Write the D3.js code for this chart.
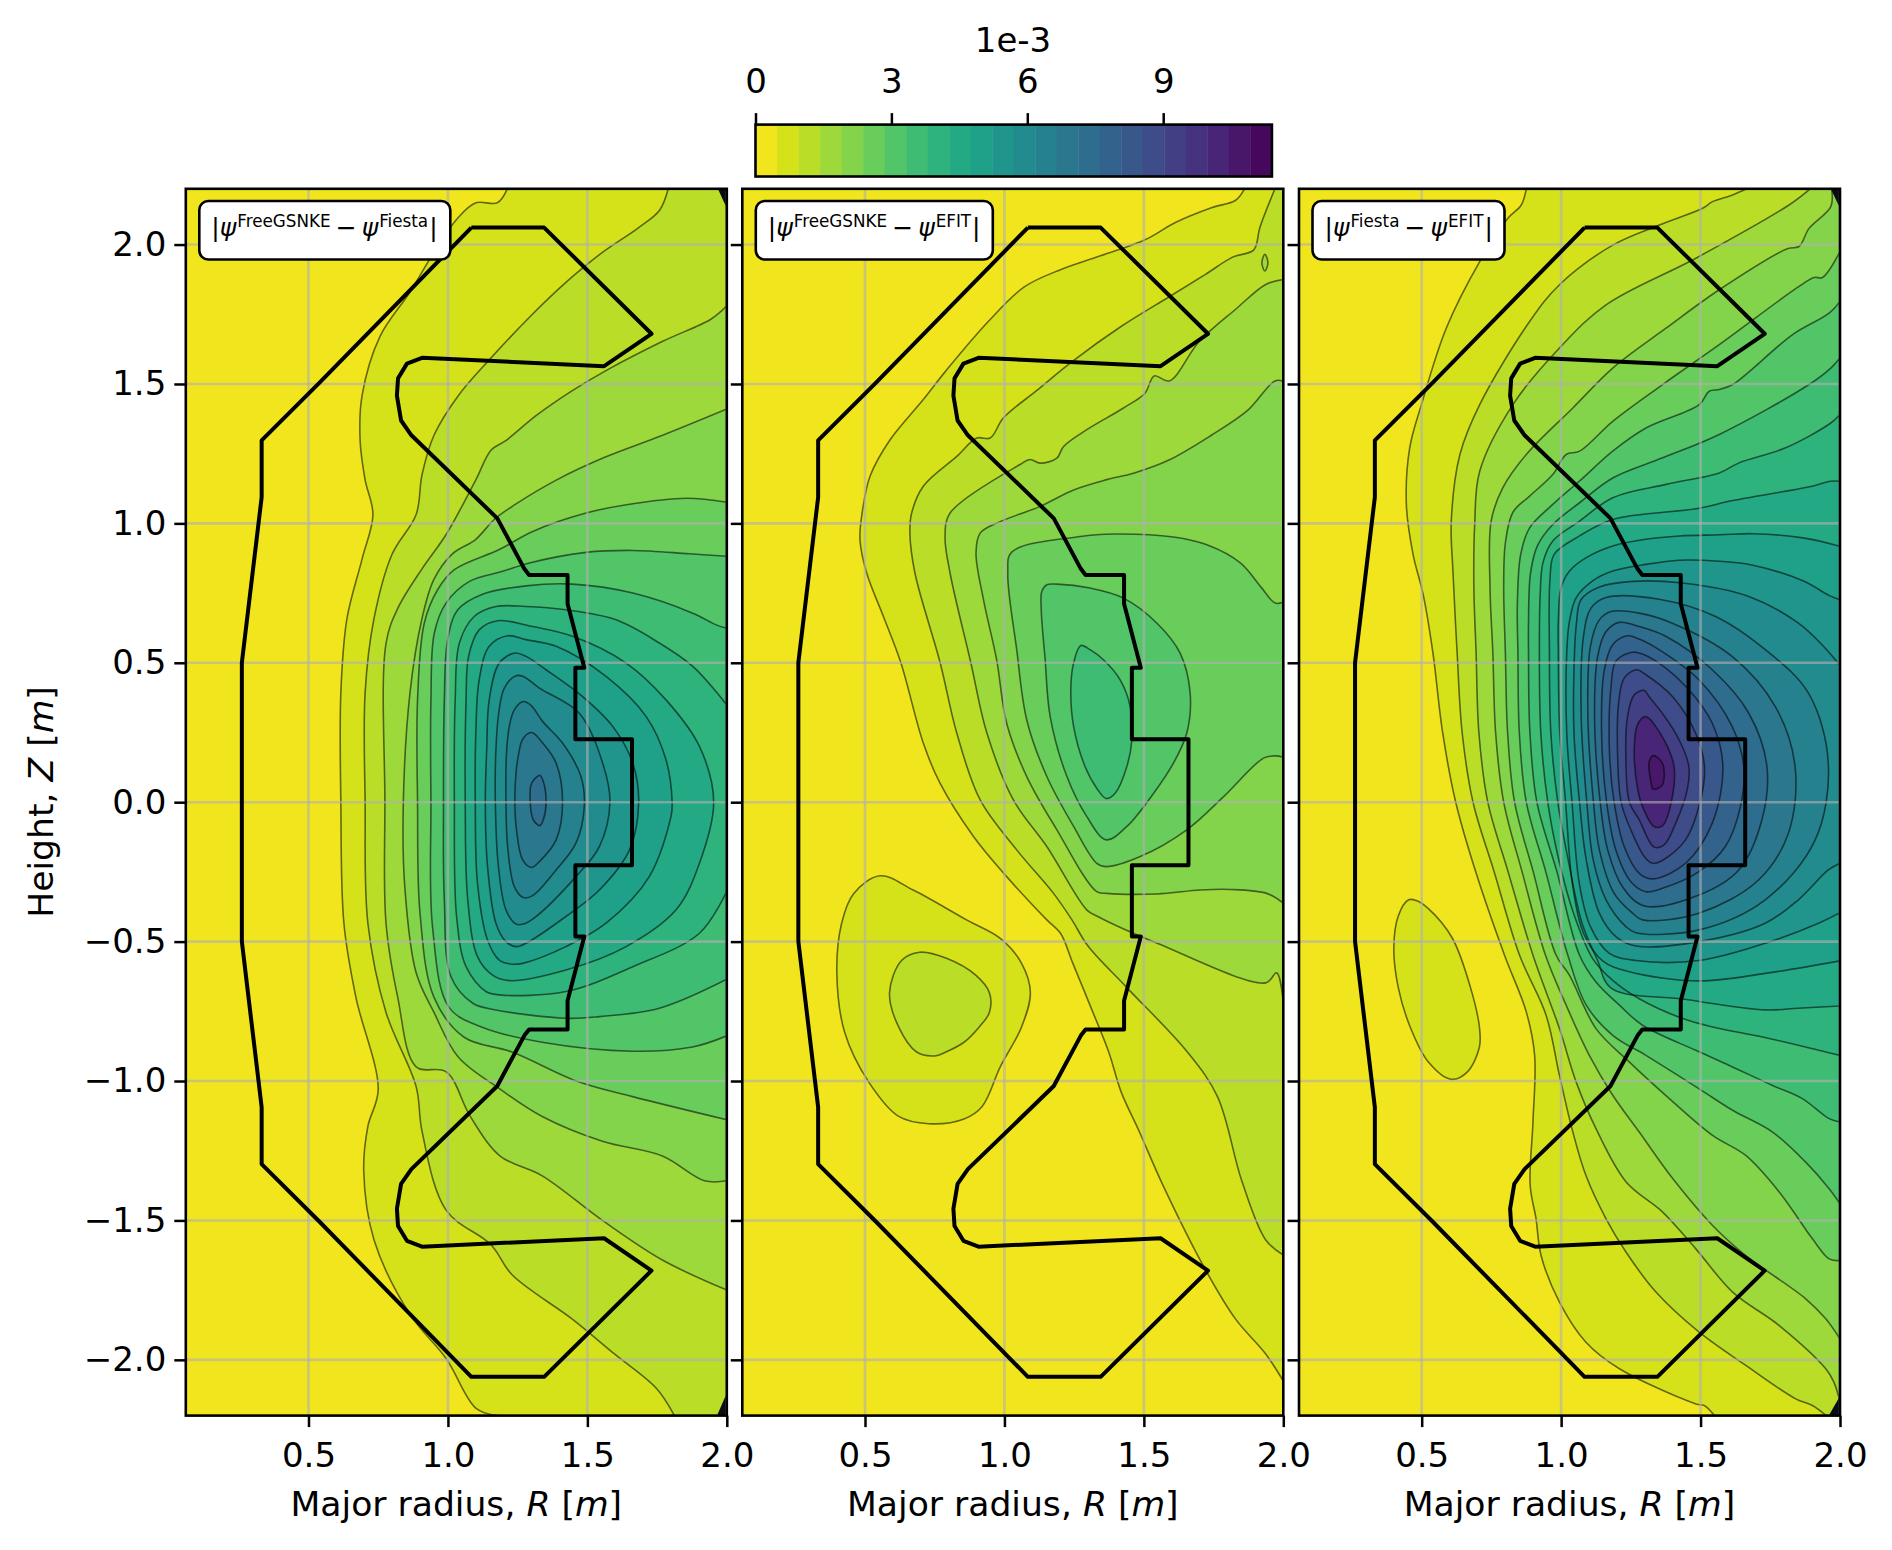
<!DOCTYPE html>
<html>
<head>
<meta charset="utf-8">
<script src="https://cdn.jsdelivr.net/npm/d3@7"></script>
<style>
html,body{margin:0;padding:0;background:#fff}
svg{display:block}
text{font-family:"DejaVu Sans";fill:#000}
</style>
</head>
<body>
<svg id="fig" width="1892" height="1550"></svg>
<script>
// ---- values ----
const levelStep = 0.475;            // contour spacing, in units of 1e-3
const levelCount = 24;              // number of filled bands
const colorbarTicks = [0, 3, 6, 9];
const colorbarOffsetLabel = "1e-3";
const radiusTicks = [0.5, 1.0, 1.5, 2.0];
const heightTicks = [-2, -1.5, -1, -0.5, 0, 0.5, 1, 1.5, 2];
const radiusDomain = [0.06, 2.0];
const heightDomain = [-2.2, 2.2];
const labelsA = ["FreeGSNKE", "Fiesta"];
const labelsB = ["FreeGSNKE", "EFIT"];
const labelsC = ["Fiesta", "EFIT"];

// wall outline, [R, Z]
const wall = [[1.084,2.061],[1.345,2.061],[1.73,1.68],[1.56,1.564],[.907,1.594],[.853,1.573],[.821,1.52],[.817,1.458],[.832,1.369],[.869,1.316],[1.177,1.018],[1.274,.837],[1.291,.815],[1.429,.815],[1.429,.712],[1.489,.482],[1.457,.482],[1.457,.226],[1.66,.226],[1.66,-.226],[1.457,-.226],[1.457,-.482],[1.489,-.482],[1.429,-.712],[1.429,-.815],[1.291,-.815],[1.274,-.837],[1.177,-1.018],[.869,-1.316],[.832,-1.369],[.817,-1.458],[.821,-1.52],[.853,-1.573],[.907,-1.594],[1.56,-1.564],[1.73,-1.68],[1.345,-2.061],[1.084,-2.061],[.537,-1.502],[.332,-1.298],[.332,-1.094],[.261,-.5],[.261,.5],[.332,1.094],[.332,1.298],[.537,1.502],[1.084,2.061]];

// contour traces: [level index, [[R, Z], ...]]
const contoursA = [
 [1,[[1.213,2.2],[1.177,2.15],[1.10,2.15],[1.037,2.097],[.95,1.972],[.864,1.83],[.756,1.67],[.692,1.458],[.685,1.298],[.703,1.156],[.731,1.032],[.692,.872],[.638,.659],[.616,.393],[.616,0],[.627,-.435],[.67,-.70],[.75,-1.03],[.713,-1.162],[.698,-1.322],[.735,-1.57],[.864,-1.837],[.994,-1.996],[1.101,-2.174],[1.177,-2.2]]],
 [2,[[1.79,2.2],[1.759,2.123],[1.683,2.06],[1.554,1.972],[1.425,1.866],[1.295,1.742],[1.144,1.582],[1.037,1.458],[.95,1.316],[.907,1.174],[.886,1.032],[.80,.89],[.735,.659],[.703,.393],[.703,0],[.713,-.435],[.778,-.754],[.886,-1.02],[.907,-1.18],[.994,-1.464],[1.155,-1.588],[1.23,-1.695],[1.446,-1.854],[1.597,-1.979],[1.748,-2.103],[1.812,-2.2]]],
 [3,[[2.0,1.78],[1.944,1.733],[1.77,1.653],[1.565,1.547],[1.446,1.476],[1.317,1.387],[1.209,1.298],[1.155,1.263],[1.10,1.156],[.994,.961],[.907,.837],[.82,.695],[.778,.57],[.774,0],[.778,-.435],[.82,-.70],[.886,-.949],[.994,-.967],[1.08,-1.127],[1.187,-1.269],[1.338,-1.34],[1.554,-1.50],[1.769,-1.642],[2.0,-1.75]]],
 [4,[[2.0,1.41],[1.77,1.316],[1.56,1.236],[1.39,1.156],[1.24,1.067],[1.166,1.014],[1.10,.943],[1.015,.89],[.95,.80],[.907,.659],[.864,.393],[.84,0],[.845,-.3],[.886,-.612],[.95,-.754],[1.037,-.914],[1.187,-1.029],[1.338,-1.127],[1.554,-1.216],[1.769,-1.269],[1.92,-1.358],[2.0,-1.358]]],
 [5,[[2.0,1.076],[1.856,1.09],[1.64,1.067],[1.495,1.037],[1.304,.971],[1.184,.906],[1.023,.834],[.963,.762],[.915,.642],[.891,.367],[.891,0],[.90,-.4],[.95,-.70],[1.058,-.843],[1.23,-.896],[1.468,-1.003],[1.662,-1.056],[2.0,-1.139]]],
 [6,[[2.0,.882],[1.866,.891],[1.663,.903],[1.495,.896],[1.292,.858],[1.196,.828],[1.077,.792],[.993,.714],[.951,.606],[.939,.367],[.939,0],[.945,-.45],[1.004,-.736],[1.123,-.807],[1.338,-.861],[1.662,-.893],[1.877,-.878],[2.0,-.838]]],
 [7,[[2.0,.624],[1.962,.636],[1.878,.678],[1.663,.75],[1.447,.782],[1.28,.776],[1.124,.746],[1.035,.69],[.999,.583],[.987,.367],[.984,0],[.987,-.35],[1.011,-.626],[1.089,-.721],[1.172,-.745],[1.423,-.775],[1.543,-.769],[1.758,-.739],[2.0,-.635]]],
 [8,[[2.0,.349],[1.878,.487],[1.758,.571],[1.603,.654],[1.423,.69],[1.28,.702],[1.172,.702],[1.094,.666],[1.041,.571],[1.026,.367],[1.023,0],[1.031,-.41],[1.065,-.59],[1.136,-.679],[1.184,-.691],[1.423,-.679],[1.663,-.59],[1.902,-.47],[2.0,-.32]]],
 [9,[[1.178,.651],[1.112,.618],[1.074,.523],[1.065,.367],[1.062,0],[1.071,-.35],[1.106,-.554],[1.16,-.62],[1.22,-.64],[1.423,-.602],[1.639,-.518],[1.818,-.386],[1.902,-.219],[1.953,0],[1.902,.2],[1.782,.367],[1.639,.499],[1.447,.595],[1.304,.63]]],
 [10,[[1.214,.597],[1.148,.559],[1.112,.439],[1.10,.248],[1.098,0],[1.106,-.291],[1.142,-.494],[1.184,-.566],[1.232,-.581],[1.268,-.578],[1.423,-.518],[1.567,-.434],[1.722,-.267],[1.80,-.051],[1.804,0],[1.782,.152],[1.711,.307],[1.567,.451],[1.388,.559],[1.28,.583]]],
 [11,[[1.24,.535],[1.184,.499],[1.148,.367],[1.139,.188],[1.134,0],[1.142,-.231],[1.172,-.434],[1.208,-.5],[1.244,-.518],[1.28,-.506],[1.423,-.41],[1.543,-.315],[1.651,-.171],[1.684,0],[1.663,.14],[1.591,.272],[1.483,.379],[1.352,.475],[1.28,.523]]],
 [12,[[1.242,.453],[1.202,.409],[1.182,.319],[1.172,.188],[1.17,0],[1.181,-.231],[1.208,-.386],[1.244,-.437],[1.27,-.437],[1.316,-.41],[1.459,-.267],[1.543,-.159],[1.581,0],[1.555,.14],[1.471,.319],[1.328,.409],[1.27,.451]]],
 [13,[[1.27,.361],[1.238,.331],[1.22,.272],[1.21,.176],[1.208,0],[1.214,-.159],[1.238,-.303],[1.27,-.342],[1.304,-.335],[1.388,-.243],[1.459,-.147],[1.489,-.016],[1.477,.092],[1.411,.212],[1.34,.289],[1.298,.347]]],
 [14,[[1.30,.25],[1.268,.226],[1.254,.176],[1.244,.104],[1.24,0],[1.246,-.10],[1.268,-.207],[1.30,-.234],[1.328,-.213],[1.388,-.135],[1.411,0],[1.388,.14],[1.34,.212]]],
 [15,[[1.33,.096],[1.30,.068],[1.295,0],[1.306,-.063],[1.33,-.084],[1.342,-.063],[1.352,0],[1.342,.074]]]
];
const contoursB = [
 [1,[[1.861,2.2],[1.829,2.159],[1.742,2.132],[1.613,2.079],[1.504,2.017],[1.331,1.955],[1.201,1.91],[1.071,1.848],[.942,1.724],[.79,1.547],[.709,1.444],[.59,1.30],[.518,1.169],[.488,1.025],[.482,.941],[.506,.822],[.566,.666],[.628,.502],[.709,.212],[.769,.068],[.889,-.123],[1.008,-.267],[1.152,-.422],[1.201,-.47],[1.245,-.577],[1.31,-.736],[1.374,-.896],[1.418,-1.038],[1.483,-1.18],[1.569,-1.375],[1.721,-1.677],[1.829,-1.854],[1.937,-1.979],[2.0,-2.076]]],
 [1,[[.554,-.264],[.459,-.328],[.416,-.435],[.399,-.612],[.427,-.825],[.513,-1.003],[.621,-1.127],[.728,-1.153],[.855,-1.136],[.92,-1.091],[.985,-.949],[1.061,-.807],[1.093,-.683],[1.061,-.577],[.985,-.488],[.864,-.422],[.673,-.315]]],
 [2,[[1.97,2.2],[1.916,2.061],[1.894,1.981],[1.818,1.955],[1.721,1.893],[1.591,1.813],[1.418,1.706],[1.245,1.582],[1.115,1.476],[.996,1.378],[.949,1.306],[.901,1.306],[.829,1.24],[.709,1.133],[.667,1.036],[.661,.965],[.679,.822],[.769,.502],[.829,.248],[.913,.008],[1.044,-.171],[1.176,-.327],[1.242,-.422],[1.299,-.515],[1.439,-.665],[1.656,-.896],[1.764,-1.056],[1.851,-1.358],[1.937,-1.57],[2.0,-1.624]]],
 [2,[[.696,-.538],[.631,-.568],[.588,-.683],[.621,-.807],[.685,-.896],[.75,-.91],[.79,-.896],[.855,-.861],[.909,-.807],[.946,-.754],[.946,-.683],[.898,-.621],[.79,-.559]]],
 [3,[[2.0,1.875],[1.937,1.857],[1.829,1.768],[1.699,1.653],[1.591,1.511],[1.537,1.529],[1.504,1.467],[1.427,1.414],[1.295,1.336],[1.212,1.276],[1.188,1.234],[1.128,1.216],[1.092,1.229],[1.056,1.211],[.805,1.037],[.787,.953],[.805,.822],[.879,.502],[.937,.248],[1.032,.008],[1.152,-.159],[1.295,-.386],[1.331,-.408],[1.548,-.506],[1.937,-.648],[1.976,-.612],[2.0,-.719]]],
 [3,[[1.934,1.965],[1.945,1.935],[1.934,1.905],[1.923,1.935]]],
 [4,[[2.0,1.51],[1.97,1.511],[1.872,1.405],[1.742,1.316],[1.59,1.227],[1.463,1.18],[1.367,1.157],[1.248,1.12],[1.128,1.061],[.972,1.001],[.913,.965],[.898,.894],[.925,.726],[.972,.511],[1.008,.283],[1.08,.092],[1.188,-.099],[1.331,-.321],[1.367,-.327],[1.547,-.329],[1.702,-.315],[1.81,-.313],[1.94,-.327],[2.0,-.362]]],
 [5,[[2.0,.718],[1.971,.714],[1.918,.774],[1.846,.858],[1.726,.923],[1.606,.951],[1.391,.962],[1.272,.953],[1.026,.897],[1.012,.822],[1.044,.547],[1.08,.295],[1.152,.092],[1.248,-.087],[1.331,-.219],[1.365,-.231],[1.487,-.195],[1.654,-.099],[1.786,.02],[1.929,.158],[1.971,.166],[2.0,.161]]],
 [6,[[1.134,.756],[1.152,.78],[1.188,.782],[1.307,.768],[1.427,.732],[1.547,.642],[1.63,.535],[1.666,.391],[1.654,.248],[1.606,.14],[1.535,.032],[1.439,-.087],[1.365,-.135],[1.295,-.051],[1.224,.092],[1.164,.307],[1.146,.511],[1.132,.69]]],
 [7,[[1.274,.562],[1.248,.499],[1.238,.403],[1.248,.272],[1.289,.128],[1.331,.05],[1.365,.013],[1.397,.032],[1.439,.128],[1.457,.224],[1.451,.343],[1.415,.439],[1.355,.511],[1.307,.547]]]
];
const contoursC = [
 [1,[[.875,2.2],[.857,2.142],[.809,2.094],[.708,1.939],[.588,1.70],[.499,1.426],[.457,1.271],[.445,1.068],[.469,.889],[.505,.746],[.54,.537],[.575,.25],[.622,0],[.696,-.257],[.797,-.549],[.875,-.752],[.905,-.908],[.899,-1.147],[.889,-1.374],[.91,-1.494],[.928,-1.626],[.994,-1.793],[1.089,-1.937],[1.209,-2.032],[1.483,-2.158],[1.513,-2.164],[1.55,-2.2]]],
 [1,[[.453,-.35],[.416,-.408],[.40,-.524],[.416,-.665],[.459,-.807],[.524,-.932],[.606,-.994],[.664,-.967],[.707,-.878],[.707,-.807],[.675,-.665],[.61,-.488],[.524,-.382],[.481,-.353]]],
 [2,[[1.665,2.2],[1.615,2.178],[1.543,2.154],[1.507,2.13],[1.352,2.07],[1.185,1.998],[.994,1.856],[.887,1.724],[.708,1.426],[.637,1.247],[.606,1.008],[.612,.829],[.627,.537],[.645,.25],[.684,0],[.76,-.25],[.851,-.549],[.946,-.764],[.994,-.98],[1.042,-1.183],[1.089,-1.339],[1.161,-1.494],[1.233,-1.614],[1.34,-1.757],[1.495,-1.901],[1.662,-2.02],[1.841,-2.14],[1.901,-2.164],[1.95,-2.2]]],
 [3,[[1.893,2.2],[1.817,2.142],[1.483,1.951],[1.161,1.784],[.994,1.629],[.827,1.426],[.708,1.187],[.69,.996],[.687,.77],[.695,.537],[.705,.25],[.737,0],[.81,-.25],[.899,-.549],[.994,-.812],[1.054,-1.004],[1.125,-1.171],[1.233,-1.362],[1.364,-1.47],[1.483,-1.602],[1.615,-1.757],[1.782,-1.877],[1.949,-2.032],[1.978,-2.08],[2.0,-2.15]]],
 [4,[[1.97,2.2],[1.967,2.136],[1.889,2.058],[1.853,1.993],[1.811,1.985],[1.567,1.838],[1.376,1.70],[1.185,1.557],[1.042,1.414],[.875,1.247],[.791,1.128],[.749,1.008],[.745,.77],[.755,.537],[.765,.25],[.794,0],[.86,-.25],[.944,-.549],[1.018,-.728],[1.101,-.908],[1.185,-1.051],[1.28,-1.183],[1.4,-1.35],[1.543,-1.518],[1.662,-1.626],[1.877,-1.781],[1.949,-1.853],[2.0,-1.925]]],
 [5,[[2.0,1.975],[1.937,1.882],[1.907,1.882],[1.853,1.85],[1.567,1.641],[1.364,1.498],[1.185,1.366],[1.066,1.259],[1.018,1.247],[.97,1.175],[.887,1.098],[.827,1.04],[.80,.93],[.794,.77],[.80,.537],[.808,.25],[.833,0],[.90,-.25],[.982,-.549],[1.03,-.621],[1.125,-.812],[1.245,-.932],[1.388,-1.063],[1.543,-1.195],[1.662,-1.267],[1.782,-1.398],[1.901,-1.566],[1.961,-1.638],[2.0,-1.644]]],
 [6,[[2.0,1.796],[1.961,1.754],[1.83,1.677],[1.615,1.498],[1.567,1.48],[1.531,1.474],[1.495,1.426],[1.304,1.342],[1.185,1.259],[1.066,1.152],[.97,1.068],[.887,.984],[.855,.889],[.843,.71],[.845,.537],[.85,.25],[.875,0],[.945,-.25],[1.024,-.549],[1.09,-.728],[1.185,-.836],[1.304,-.908],[1.495,-1.028],[1.615,-1.105],[1.758,-1.183],[1.877,-1.291],[1.961,-1.386],[2.0,-1.44]]],
 [7,[[2.0,1.593],[1.967,1.557],[1.889,1.498],[1.567,1.319],[1.364,1.235],[1.185,1.163],[1.066,1.074],[.97,.996],[.915,.92],[.89,.82],[.883,.65],[.883,.537],[.888,.25],[.913,0],[.985,-.25],[1.066,-.549],[1.125,-.645],[1.209,-.728],[1.292,-.80],[1.483,-.89],[1.603,-.944],[1.758,-1.016],[1.865,-1.063],[1.961,-1.135],[2.0,-1.147]]],
 [8,[[2.0,1.39],[1.967,1.36],[1.805,1.271],[1.638,1.217],[1.567,1.181],[1.376,1.14],[1.185,1.092],[1.066,1.008],[.97,.937],[.935,.86],[.925,.75],[.922,.537],[.927,.25],[.952,0],[.99,-.2],[1.045,-.4],[1.113,-.561],[1.185,-.639],[1.28,-.705],[1.436,-.776],[1.543,-.806],[1.722,-.842],[1.949,-.896],[2.0,-.908]]],
 [9,[[2.0,1.151],[1.964,1.151],[1.904,1.134],[1.605,1.08],[1.495,1.054],[1.185,1.014],[1.066,.955],[.975,.889],[.96,.8],[.958,.537],[.963,.25],[.988,0],[1.03,-.231],[1.075,-.434],[1.13,-.566],[1.179,-.667],[1.435,-.706],[1.732,-.745],[1.851,-.739],[2.0,-.731]]],
 [10,[[2.0,.918],[1.867,.948],[1.688,.963],[1.57,.959],[1.424,.955],[1.304,.943],[1.185,.919],[1.09,.877],[1.03,.829],[1.0,.77],[.99,.65],[.99,.537],[.995,.25],[1.016,0],[1.04,-.291],[1.08,-.47],[1.15,-.57],[1.244,-.608],[1.494,-.641],[1.732,-.614],[2.0,-.569]]],
 [11,[[2.0,.726],[1.964,.74],[1.867,.794],[1.688,.85],[1.57,.864],[1.424,.868],[1.304,.853],[1.185,.829],[1.113,.794],[1.054,.734],[1.03,.65],[1.02,.537],[1.02,.25],[1.039,0],[1.065,-.291],[1.105,-.446],[1.173,-.542],[1.268,-.568],[1.494,-.568],[1.732,-.506],[1.923,-.434],[2.0,-.396]]],
 [12,[[2.0,.49],[1.952,.547],[1.851,.642],[1.673,.738],[1.435,.786],[1.256,.792],[1.137,.772],[1.071,.726],[1.055,.642],[1.048,.537],[1.046,.25],[1.066,0],[1.09,-.207],[1.137,-.398],[1.196,-.482],[1.268,-.516],[1.494,-.5],[1.732,-.434],[1.851,-.35],[1.958,-.243],[2.0,-.219]]],
 [13,[[1.161,.734],[1.107,.696],[1.08,.594],[1.072,.3],[1.092,0],[1.115,-.207],[1.161,-.35],[1.232,-.446],[1.268,-.468],[1.494,-.458],[1.732,-.35],[1.911,-.135],[1.958,.14],[1.887,.391],[1.732,.547],[1.554,.666],[1.351,.728]]],
 [14,[[1.179,.684],[1.137,.654],[1.105,.559],[1.096,.3],[1.116,0],[1.137,-.171],[1.19,-.327],[1.256,-.398],[1.292,-.422],[1.494,-.398],[1.708,-.279],[1.815,-.111],[1.839,.128],[1.768,.343],[1.613,.523],[1.399,.642],[1.28,.678]]],
 [15,[[1.208,.645],[1.161,.612],[1.131,.523],[1.12,.3],[1.14,0],[1.167,-.171],[1.22,-.303],[1.298,-.372],[1.494,-.333],[1.637,-.243],[1.72,-.063],[1.738,.128],[1.673,.319],[1.542,.475],[1.375,.595],[1.28,.63]]],
 [16,[[1.238,.597],[1.185,.565],[1.155,.475],[1.145,.248],[1.163,0],[1.196,-.171],[1.25,-.285],[1.304,-.321],[1.363,-.309],[1.494,-.249],[1.589,-.159],[1.643,-.016],[1.655,.128],[1.613,.272],[1.494,.439],[1.351,.547],[1.28,.585]]],
 [17,[[1.25,.537],[1.196,.505],[1.179,.415],[1.173,.188],[1.19,0],[1.226,-.159],[1.28,-.255],[1.33,-.275],[1.446,-.219],[1.542,-.075],[1.58,.128],[1.542,.283],[1.458,.403],[1.351,.499],[1.28,.535]]],
 [18,[[1.27,.475],[1.226,.445],[1.206,.355],[1.202,.188],[1.215,0],[1.25,-.099],[1.298,-.195],[1.327,-.219],[1.363,-.209],[1.446,-.135],[1.5,.008],[1.514,.128],[1.482,.248],[1.399,.379],[1.304,.457]]],
 [19,[[1.298,.401],[1.262,.385],[1.238,.307],[1.232,.164],[1.245,0],[1.28,-.063],[1.333,-.161],[1.369,-.153],[1.411,-.075],[1.452,.044],[1.458,.128],[1.423,.224],[1.363,.319],[1.315,.379]]],
 [21,[[1.30,.307],[1.274,.278],[1.262,.188],[1.274,.05],[1.292,-.016],[1.333,-.087],[1.363,-.085],[1.399,.02],[1.405,.128],[1.381,.2],[1.339,.272],[1.315,.301]]],
 [22,[[1.33,.167],[1.315,.14],[1.321,.08],[1.33,.047],[1.363,.062],[1.363,.14]]]
];
const cornersA = [[[1.968,2.2],[2.0,2.2],[2.0,2.13]],[[1.965,-2.2],[2.0,-2.2],[2.0,-2.12]]];
const cornersC = [[[1.967,2.2],[2.0,2.2],[2.0,2.13]],[[1.96,-2.2],[2.0,-2.2],[2.0,-2.13]]];

// ---- layout ----
const svg = d3.select("#fig");
const panelLefts = [185.8, 742.3, 1299];
const panelW = 541, panelTop = 188.8, panelBottom = 1415.6;
const FS = 34;
const levelMax = levelStep * levelCount;
const color = d3.scaleSequential(d3.interpolateViridis).domain([levelMax, 0]);
const bandColor = i => color((i + 0.5) * levelStep);

function isOpen(pts){
  const e = pts[pts.length-1];
  return e[0] >= 1.999 || Math.abs(e[1]) >= 2.199;
}

function drawPanel(idx, contours, corners, labels, legendW){
  const left = panelLefts[idx];
  const x = d3.scaleLinear().domain(radiusDomain).range([left, left + panelW]);
  const y = d3.scaleLinear().domain(heightDomain).range([panelBottom, panelTop]);
  const g = svg.append("g");
  const clipId = "clip" + idx;
  svg.append("clipPath").attr("id", clipId).append("rect")
    .attr("x", left).attr("y", panelTop).attr("width", panelW).attr("height", panelBottom - panelTop);
  const plot = g.append("g").attr("clip-path", `url(#${clipId})`);
  plot.append("rect").attr("x", left).attr("y", panelTop).attr("width", panelW)
    .attr("height", panelBottom - panelTop).attr("fill", bandColor(0));

  const lineOpen = d3.line().x(d => x(d[0])).y(d => y(d[1])).curve(d3.curveCatmullRom.alpha(0.5));
  const lineClosed = d3.line().x(d => x(d[0])).y(d => y(d[1])).curve(d3.curveCatmullRomClosed.alpha(0.5));

  // filled bands, low to high
  contours.forEach(([lev, pts]) => {
    let d;
    if (isOpen(pts)) {
      const s = pts[0], e = pts[pts.length-1];
      d = lineOpen(pts) + `L${x(2.06)},${y(e[1])}L${x(2.06)},${y(s[1])}Z`;
    } else d = lineClosed(pts);
    plot.append("path").attr("d", d).attr("fill", bandColor(lev)).attr("stroke", "none");
  });
  // contour lines
  contours.forEach(([lev, pts]) => {
    plot.append("path").attr("d", isOpen(pts) ? lineOpen(pts) : lineClosed(pts))
      .attr("fill", "none").attr("stroke", "#000").attr("stroke-opacity", 0.55).attr("stroke-width", 1.6);
  });
  corners.forEach(pts => {
    plot.append("path").attr("d", d3.line().x(d => x(d[0])).y(d => y(d[1]))(pts) + "Z").attr("fill", "#0b0b14");
  });
  // grid
  radiusTicks.forEach(t => plot.append("line").attr("x1", x(t)).attr("x2", x(t)).attr("y1", panelTop).attr("y2", panelBottom)
    .attr("stroke", "#b0b0b0").attr("stroke-opacity", 0.62).attr("stroke-width", 2.6));
  heightTicks.forEach(t => plot.append("line").attr("x1", left).attr("x2", left + panelW).attr("y1", y(t)).attr("y2", y(t))
    .attr("stroke", "#b0b0b0").attr("stroke-opacity", 0.62).attr("stroke-width", 2.6));
  // wall
  plot.append("path").attr("d", d3.line().x(d => x(d[0])).y(d => y(d[1]))(wall))
    .attr("fill", "none").attr("stroke", "#000").attr("stroke-width", 4).attr("stroke-linejoin", "round");

  // legend box
  const bx = left + 13.5, by = 201, bh = 58.5;
  g.append("rect").attr("x", bx).attr("y", by).attr("width", legendW).attr("height", bh)
    .attr("rx", 9).attr("ry", 9).attr("fill", "#fff").attr("stroke", "#000").attr("stroke-width", 2.6);
  const t = g.append("text").attr("x", bx + 12).attr("y", 236).attr("font-size", 25);
  t.append("tspan").text("|");
  t.append("tspan").attr("dx", 0).attr("font-style", "italic").text("ψ");
  t.append("tspan").attr("dx", 1).attr("dy", -9.5).attr("font-size", 16.8).text(labels[0]);
  t.append("tspan").attr("dx", 5).attr("dy", 9.5).text("−");
  t.append("tspan").attr("dx", 5).attr("font-style", "italic").text("ψ");
  t.append("tspan").attr("dx", 1).attr("dy", -9.5).attr("font-size", 16.8).text(labels[1]);
  t.append("tspan").attr("dx", 1).attr("dy", 9.5).text("|");

  // axes via d3
  const ax = g.append("g").attr("transform", `translate(0,${panelBottom})`)
    .call(d3.axisBottom(x).tickValues(radiusTicks).tickFormat(d3.format(".1f")).tickSize(11.5).tickPadding(15.8));
  ax.select(".domain").remove();
  ax.selectAll("line").attr("stroke", "#000").attr("stroke-width", 2.5);
  ax.selectAll("text").attr("font-size", FS).attr("font-family", "DejaVu Sans").attr("fill", "#000");

  const ay = g.append("g").attr("transform", `translate(${left},0)`)
    .call(d3.axisLeft(y).tickValues(heightTicks).tickFormat(idx === 0 ? (v => d3.format(".1f")(v).replace("-", "−")) : "").tickSize(11.5).tickPadding(8));
  ay.select(".domain").remove();
  ay.selectAll("line").attr("stroke", "#000").attr("stroke-width", 2.5);
  ay.selectAll("text").attr("font-size", FS).attr("font-family", "DejaVu Sans").attr("fill", "#000");

  g.append("rect").attr("x", left).attr("y", panelTop).attr("width", panelW).attr("height", panelBottom - panelTop)
    .attr("fill", "none").attr("stroke", "#000").attr("stroke-width", 2.6);

  const xl = g.append("text").attr("x", left + panelW / 2).attr("y", 1515.5).attr("text-anchor", "middle").attr("font-size", FS + 0.6);
  xl.append("tspan").text("Major radius, ");
  xl.append("tspan").attr("font-style", "italic").text("R");
  xl.append("tspan").text(" [");
  xl.append("tspan").attr("font-style", "italic").text("m");
  xl.append("tspan").text("]");
}

drawPanel(0, contoursA, cornersA, labelsA, 251);
drawPanel(1, contoursB, [], labelsB, 237);
drawPanel(2, contoursC, cornersC, labelsC, 192);

const yl = svg.append("text").attr("transform", `translate(53,802) rotate(-90)`).attr("text-anchor", "middle").attr("font-size", FS + 0.6);
yl.append("tspan").text("Height, ");
yl.append("tspan").attr("font-style", "italic").text("Z");
yl.append("tspan").text(" [");
yl.append("tspan").attr("font-style", "italic").text("m");
yl.append("tspan").text("]");

// colorbar
const cbL = 755.5, cbTop = 124.6, cbBottom = 176.5;
const cbScale = d3.scaleLinear().domain([0, levelMax]).range([cbL, cbL + 45.3 * levelMax]);
d3.range(levelCount).forEach(i => {
  svg.append("rect").attr("x", cbScale(i * levelStep)).attr("y", cbTop)
    .attr("width", cbScale((i + 1) * levelStep) - cbScale(i * levelStep) + 0.4).attr("height", cbBottom - cbTop).attr("fill", bandColor(i));
});
svg.append("rect").attr("x", cbL).attr("y", cbTop).attr("width", cbScale(levelMax) - cbL).attr("height", cbBottom - cbTop)
  .attr("fill", "none").attr("stroke", "#000").attr("stroke-width", 2.6);
const cbAxis = svg.append("g").attr("transform", `translate(0,${cbTop})`)
  .call(d3.axisTop(cbScale).tickValues(colorbarTicks).tickFormat(d3.format("d")).tickSize(11.5).tickPadding(20));
cbAxis.select(".domain").remove();
cbAxis.selectAll("line").attr("stroke", "#000").attr("stroke-width", 2.5);
cbAxis.selectAll("text").attr("font-size", FS).attr("font-family", "DejaVu Sans").attr("fill", "#000");
svg.append("text").attr("x", 1013).attr("y", 52).attr("text-anchor", "middle").attr("font-size", FS).text(colorbarOffsetLabel);
</script>
</body>
</html>
